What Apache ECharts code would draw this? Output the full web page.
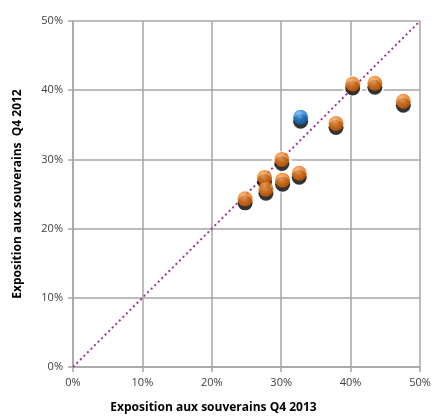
<!DOCTYPE html>
<html>
<head>
<meta charset="utf-8">
<script src="https://cdn.jsdelivr.net/npm/echarts@6/dist/echarts.min.js"></script>
<style>
  html, body { margin: 0; padding: 0; background: #fff; }
  #chart { width: 432px; height: 416px; }
</style>
</head>
<body>
<div id="chart"></div>
<script>
// Exposure to sovereigns (share of assets), Q4 2013 vs Q4 2012
const expoQ4_2013 = [40.3, 43.5, 47.6, 37.9, 30.1, 32.6, 27.6, 30.2, 27.8, 24.8];
const expoQ4_2012 = [40.9, 41.0, 38.4, 35.2, 30.0, 28.0, 27.4, 27.0, 25.7, 24.3];
const highlightQ4_2013 = [32.8];
const highlightQ4_2012 = [36.1];
const diagonal = [[0, 0], [50, 50]];
const axisTicks = [0, 10, 20, 30, 40, 50];

const pairs = (xs, ys) => xs.map((x, i) => [x, ys[i]]);
const orangePts = pairs(expoQ4_2013, expoQ4_2012);
const bluePts = pairs(highlightQ4_2013, highlightQ4_2012);

const ball = (light, mid, dark) => ({
  type: 'radial', x: 0.4, y: 0.35, r: 0.7,
  colorStops: [
    { offset: 0, color: light },
    { offset: 0.5, color: mid },
    { offset: 1, color: dark }
  ]
});

const halo = (data, z) => ({
  type: 'scatter', data, symbolSize: 21, symbolOffset: [0, 2], z,
  itemStyle: { color: '#ffffff' }, silent: true
});
const balls = (data, color, z) => ({
  type: 'scatter', data, symbolSize: 15, z,
  itemStyle: {
    color, shadowColor: '#000', shadowBlur: 0, shadowOffsetY: 4
  }
});

const chart = echarts.init(document.getElementById('chart'));
const fontFam = '"Open Sans", "Liberation Sans", sans-serif';
const axisBase = {
  type: 'value', min: 0, max: 50, interval: 10,
  axisLine: { show: true, lineStyle: { color: '#A6A6A6', width: 1.5 } },
  axisTick: { show: true, length: 5, lineStyle: { color: '#A6A6A6', width: 1.5 } },
  splitLine: { show: true, lineStyle: { color: '#A6A6A6', width: 1.5 } },
  axisLabel: {
    color: '#404040', fontSize: 11, fontFamily: fontFam,
    formatter: v => axisTicks.includes(v) ? v + '%' : ''
  },
  nameLocation: 'middle',
  nameTextStyle: { color: '#000', fontSize: 12, fontWeight: 'bold', fontFamily: fontFam }
};

chart.setOption({
  animation: false,
  grid: { left: 73, right: 12, top: 21, bottom: 49, containLabel: false, outerBoundsMode: 'none' },
  xAxis: Object.assign({}, axisBase, {
    name: 'Exposition aux souverains Q4 2013', nameGap: 35,
    nameTextStyle: Object.assign({}, axisBase.nameTextStyle, { padding: [0, 66, 0, 0] }),
    axisLabel: Object.assign({}, axisBase.axisLabel, { margin: 10 })
  }),
  yAxis: Object.assign({}, axisBase, {
    name: 'Exposition aux souverains  Q4 2012', nameGap: 49,
    axisLabel: Object.assign({}, axisBase.axisLabel, { margin: 10 })
  }),
  series: [
    {
      type: 'line', data: diagonal, symbol: 'none', z: 3,
      lineStyle: { color: '#A8309A', width: 2, type: [2, 3] }
    },
    halo(orangePts, 1),
    halo(bluePts, 1),
    balls(orangePts, ball('#FFB878', '#EE7A18', '#C25500'), 4),
    balls(bluePts, ball('#8AC8FF', '#1C80D8', '#0E5AA8'), 4)
  ]
});
</script>
</body>
</html>
